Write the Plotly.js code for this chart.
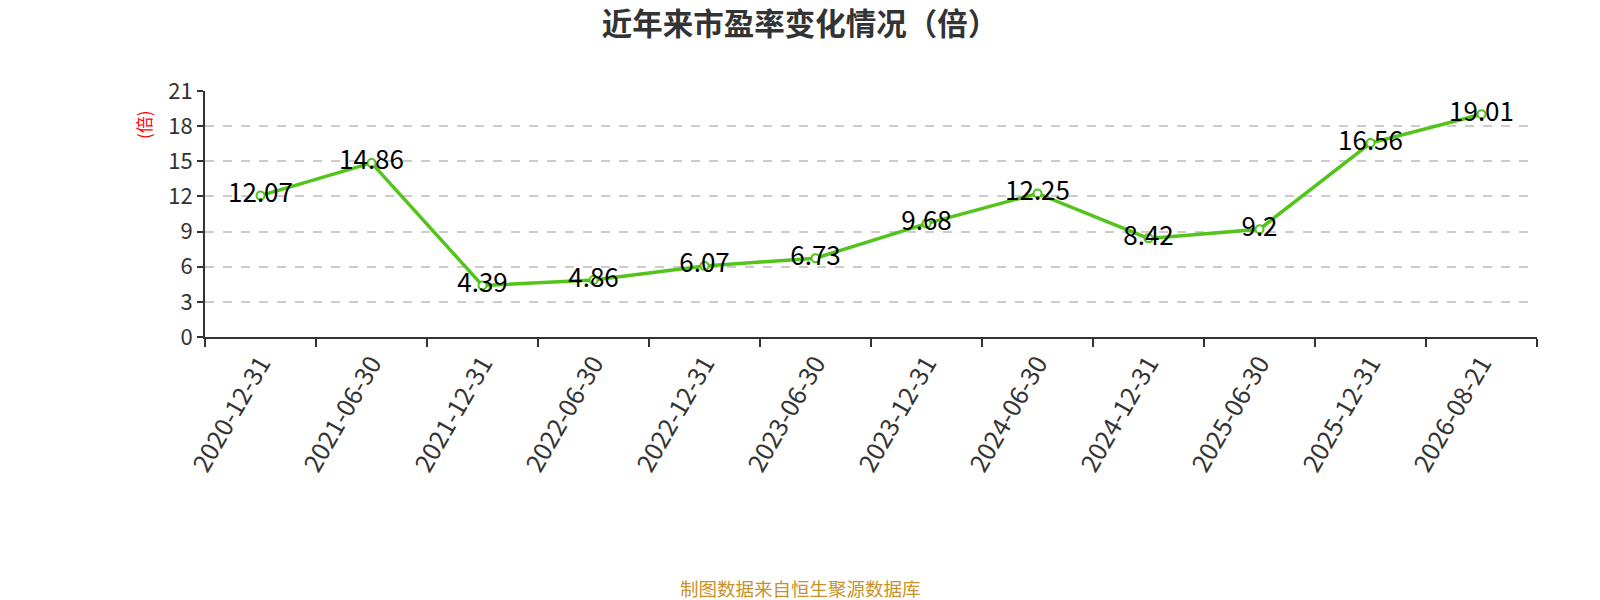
<!DOCTYPE html>
<html>
<head>
<meta charset="utf-8">
<script src="https://cdn.plot.ly/plotly-3.0.1.min.js"></script>
<style>
  html, body { margin: 0; padding: 0; background: #fff; }
  #chart { width: 1600px; height: 600px; }
</style>
</head>
<body>
<div id="chart"></div>
<script>
// ── data ─────────────────────────────────────────────────────────────────────
const dates = ['2020-12-31','2021-06-30','2021-12-31','2022-06-30','2022-12-31','2023-06-30',
               '2023-12-31','2024-06-30','2024-12-31','2025-06-30','2025-12-31','2026-08-21'];
const peValues = [12.07, 14.86, 4.39, 4.86, 6.07, 6.73, 9.68, 12.25, 8.42, 9.2, 16.56, 19.01];
const peLabels = ['12.07','14.86','4.39','4.86','6.07','6.73','9.68','12.25','8.42','9.2','16.56','19.01'];
const yTicks = [0, 3, 6, 9, 12, 15, 18, 21];

const FONT = '"Noto Sans CJK SC", "Noto Sans", sans-serif';
const GREEN = '#52c41a';

// plot box in page pixels
const L = 205, R = 63, T = 91, B = 263;
const plotW = 1600 - L - R, plotH = 600 - T - B;

Plotly.newPlot('chart', [{
  x: dates, y: peValues,
  type: 'scatter', mode: 'lines+markers+text',
  text: peLabels, textposition: 'middle center',
  textfont: { family: FONT, size: 26, color: '#000' },
  line: { color: GREEN, width: 3.5 },
  marker: { size: 8, color: '#fff', line: { color: GREEN, width: 2 } },
  cliponaxis: false, hoverinfo: 'x+y',
}], {
  width: 1600, height: 600,
  paper_bgcolor: '#fff', plot_bgcolor: '#fff',
  font: { family: FONT, color: '#333', size: 20 },
  margin: { t: T, r: R, b: B, l: L },
  showlegend: false,
  title: { text: '<b>近年来市盈率变化情况（倍）</b>', x: 0.5, xanchor: 'center', y: 0.96, yanchor: 'middle',
           font: { family: FONT, size: 30.5, color: '#333' } },
  xaxis: {
    type: 'category', range: [-0.5, dates.length - 0.5],
    tickson: 'boundaries', ticks: 'outside', ticklen: 8, tickwidth: 2, tickcolor: '#333',
    showline: true, linecolor: '#333', linewidth: 2, showgrid: false, zeroline: false, automargin: false,
    tickangle: -60, tickfont: { family: FONT, size: 25, color: '#333' },
  },
  yaxis: {
    range: [0, 21], tickvals: yTicks, ticks: 'outside', ticklen: 6, tickwidth: 2, tickcolor: '#333',
    showline: true, linecolor: '#333', linewidth: 2, zeroline: false, automargin: false,
    showgrid: true, gridcolor: '#ccc', gridwidth: 1.5, griddash: 'dash',
    tickfont: { family: FONT, size: 22, color: '#333' },
  },
  annotations: [
    {
      text: '(倍)', xref: 'paper', yref: 'paper', x: (143 - L) / plotW, y: (600 - B - 125) / plotH,
      xanchor: 'center', yanchor: 'middle',
      textangle: -90, showarrow: false, font: { family: FONT, size: 17, color: '#ff0000' },
    },
    {
      text: '制图数据来自恒生聚源数据库', xref: 'paper', yref: 'paper',
      x: (800 - L) / plotW, y: (600 - B - 588) / plotH, xanchor: 'center', yanchor: 'middle',
      showarrow: false, font: { family: FONT, size: 18.5, color: '#c8922a' },
    },
  ],
}, { displayModeBar: false });
</script>
</body>
</html>
